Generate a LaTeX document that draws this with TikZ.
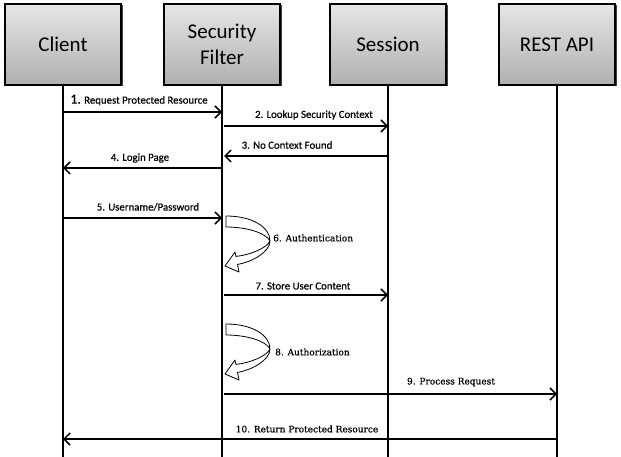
\documentclass[tikz,border=0pt]{standalone}
\usepackage{fontspec}
\setmainfont{Carlito}
\newfontfamily\sansl[FakeBold=0.5]{Carlito}
\newfontfamily\serf[FakeBold=0.5]{DejaVu Serif}
\usetikzlibrary{arrows.meta}
\begin{document}
\begin{tikzpicture}[x=1pt,y=-1pt,
 actor/.style={draw=black,line width=1.3pt,top color=gray!20,bottom color=gray!62,minimum width=116pt,minimum height=81pt,inner sep=0pt,font=\fontsize{21}{26}\selectfont,align=center},
 shadowbox/.style={fill=black!75,minimum width=116pt,minimum height=81pt,inner sep=0pt},
 life/.style={line width=1.5pt},
 msg/.style={line width=1.5pt,-{Straight Barb[length=6pt,width=12pt,line width=1.5pt]}},
 lbl/.style={font=\sansl\fontsize{10.8}{12}\selectfont,inner sep=0pt},
 slbl/.style={font=\serf\fontsize{9}{10}\selectfont,inner sep=0pt},
 selfarrow/.style={fill=white,draw=black,line width=0.8pt,line join=round},
 selfarr/.pic={\path[selfarrow] (4,1) .. controls (30,1) and (48,12) .. (48,26)
   .. controls (48,37) and (30,47) .. (15.5,49.4) -- (17,57) -- (3,51) -- (13,37) -- (13.9,41.4)
   .. controls (28,40) and (45,33) .. (48,26)
   .. controls (44,18) and (25,12) .. (4,12) -- cycle;}]
\useasboundingbox (0,0) rectangle (621,457);
\coordinate (bot) at (0,457);
% shadows
\node[shadowbox] (cs) at (64.5,46) {};
\node[shadowbox] (sfs) at (223.5,46) {};
\node[shadowbox] (sss) at (389.5,46) {};
\node[shadowbox] (ras) at (558.5,46) {};
% actor boxes
\node[actor] (c) at (63,44.5) {Client};
\node[actor] (sf) at (222,44.5) {Security\\Filter};
\node[actor] (ss) at (388,44.5) {Session};
\node[actor] (ra) at (557,44.5) {REST API};
% lifelines
\draw[life] (c.south) -- (c.south |- bot);
\draw[life] (sf.south) -- (sf.south |- bot);
\draw[life] (ss.south) -- (ss.south |- bot);
\draw[life] (ra.south) -- (ra.south |- bot);
% message rows
\coordinate (m1) at (0,112);
\coordinate (m2) at (0,126);
\coordinate (m3) at (0,156);
\coordinate (m4) at (0,168);
\coordinate (m5) at (0,218);
\coordinate (m7) at (0,295);
\coordinate (m9) at (0,394);
\coordinate (m10) at (0,439);
\draw[msg] (c |- m1) -- (sf |- m1);
\draw[msg] ([xshift=2pt]sf |- m2) -- (ss |- m2);
\draw[msg] (ss |- m3) -- ([xshift=2pt]sf |- m3);
\draw[msg] (sf |- m4) -- (c |- m4);
\draw[msg] (c |- m5) -- (sf |- m5);
\draw[msg] ([xshift=2pt]sf |- m7) -- (ss |- m7);
\draw[msg] ([xshift=2pt]sf |- m9) -- (ra |- m9);
\draw[msg] (ra |- m10) -- (c |- m10);
% self calls
\pic at (222,215) {selfarr};
\pic at (222,323) {selfarr};
% labels
\node[lbl] (l1) at (139,100) {{\fontsize{14}{12}\selectfont 1.} Request Protected Resource};
\node[lbl] (l2) at (314,115) {2. Lookup Security Context};
\node[lbl] (l3) at (287,145) {3. No Context Found};
\node[lbl] (l4) at (140,158) {4. Login Page};
\node[lbl] (l5) at (148,207) {5. Username/Password};
\node[slbl,anchor=west] (l6) at (273,238) {6. Authentication};
\node[lbl] (l7) at (303,286) {7. Store User Content};
\node[slbl,anchor=west] (l8) at (275,352) {8. Authorization};
\node[slbl] (l9) at (451,382) {9. Process Request};
\node[slbl] (l10) at (307,429) {10. Return Protected Resource};
\end{tikzpicture}
\end{document}
